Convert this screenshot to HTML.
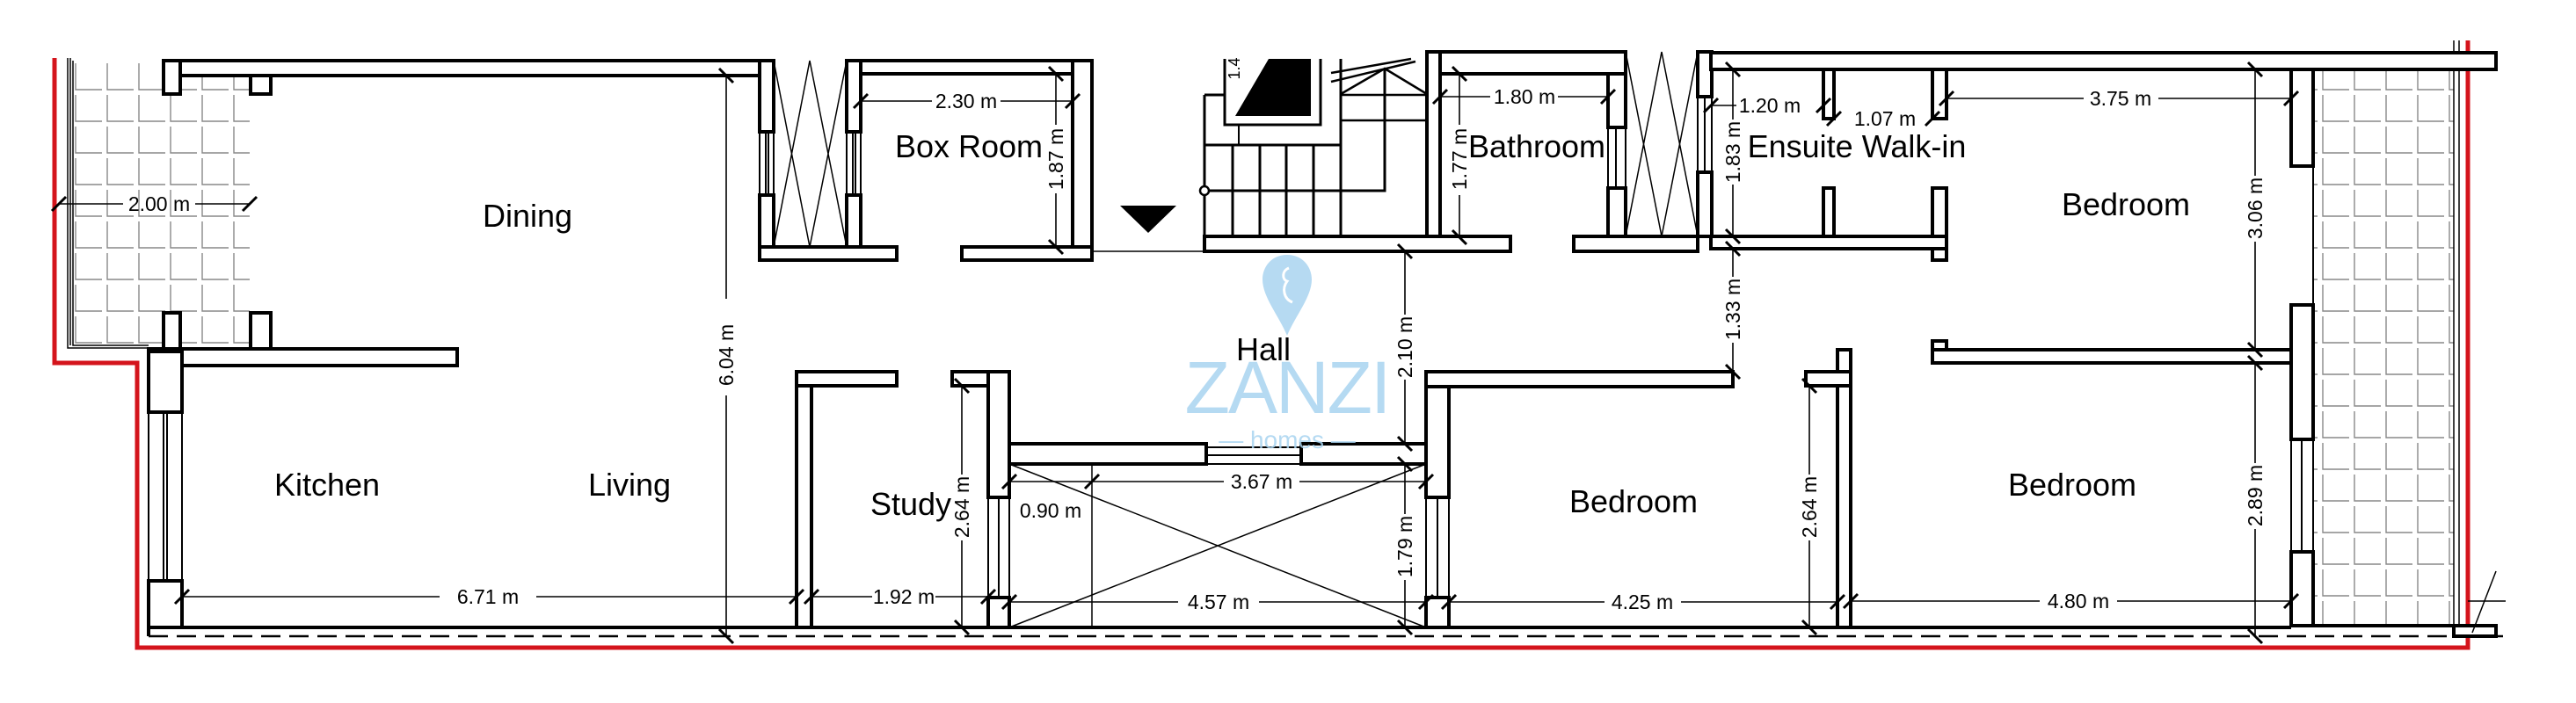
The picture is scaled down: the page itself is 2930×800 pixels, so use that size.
<!DOCTYPE html>
<html><head><meta charset="utf-8"><style>
html,body{margin:0;padding:0;background:#fff;}
svg{display:block;}
text{font-family:"Liberation Sans",Arial,sans-serif;fill:#000;}
.lb{font-size:36px;text-anchor:middle;}
.dm{font-size:23px;text-anchor:middle;}
</style></head><body>
<svg width="2930" height="800" viewBox="0 0 2930 800" xmlns="http://www.w3.org/2000/svg">
<defs>
<pattern id="tile" x="83" y="69" width="36" height="36" patternUnits="userSpaceOnUse">
<path d="M3 3 V33 H33" fill="none" stroke="#888" stroke-width="1.4"/>
</pattern>
</defs>
<rect width="2930" height="800" fill="#fff"/>
<rect x="83" y="69" width="201" height="324" fill="url(#tile)"/>
<path d="M77 66 V396 H169 M80 66 V393 M83 69 V393 H169" fill="none" stroke="#000" stroke-width="1.5"/>
<rect x="2631" y="79" width="160" height="633" fill="url(#tile)"/>
<path d="M2791 46 V712 M2797 46 V712" fill="none" stroke="#000" stroke-width="1.5"/>
<path d="M62 66 V413 H156 V737 H2807 V46" fill="none" stroke="#d4141c" stroke-width="5"/>

<g fill="#fff" stroke="#000" stroke-width="4">
<rect x="186" y="69" width="19" height="38"/>
<rect x="285" y="69" width="23" height="38"/>
<rect x="205" y="69" width="675" height="17"/>
<rect x="864" y="69" width="16" height="81"/>
<rect x="864" y="222" width="16" height="59"/>
<rect x="864" y="281" width="156" height="15"/>
<rect x="963" y="69" width="16" height="81"/>
<rect x="963" y="222" width="16" height="59"/>
<rect x="979" y="69" width="263" height="15"/>
<rect x="1220" y="69" width="22" height="227"/>
<rect x="1094" y="281" width="148" height="15"/>
<rect x="186" y="356" width="19" height="44"/>
<rect x="285" y="356" width="23" height="41"/>
<rect x="169" y="397" width="351" height="19"/>
<rect x="169" y="400" width="38" height="69"/>
<rect x="169" y="661" width="38" height="53"/>
<rect x="906" y="423" width="17" height="291"/>
<rect x="906" y="423" width="114" height="16"/>
<rect x="1083" y="423" width="65" height="16"/>
<rect x="1124" y="423" width="24" height="143"/>
<rect x="1124" y="680" width="24" height="34"/>
<rect x="1148" y="505" width="224" height="23"/>
<rect x="1480" y="505" width="142" height="23"/>
<rect x="1622" y="423" width="26" height="143"/>
<rect x="1622" y="680" width="26" height="34"/>
<rect x="1622" y="423" width="349" height="17"/>
<rect x="1370" y="269" width="348" height="17"/>
<rect x="1623" y="59" width="15" height="210"/>
<rect x="1638" y="59" width="211" height="25"/>
<rect x="1829" y="84" width="20" height="61"/>
<rect x="1829" y="214" width="20" height="56"/>
<rect x="1790" y="269" width="141" height="17"/>
<rect x="1931" y="59" width="16" height="51"/>
<rect x="1931" y="196" width="16" height="73"/>
<rect x="1946" y="60" width="893" height="19"/>
<rect x="2074" y="79" width="12" height="56"/>
<rect x="2198" y="79" width="16" height="56"/>
<rect x="2074" y="214" width="12" height="55"/>
<rect x="2198" y="214" width="16" height="82"/>
<rect x="1946" y="269" width="268" height="14"/>
<rect x="2606" y="79" width="25" height="110"/>
<rect x="2606" y="347" width="25" height="153"/>
<rect x="2606" y="628" width="25" height="84"/>
<rect x="2198" y="388" width="16" height="25"/>
<rect x="2198" y="398" width="408" height="15"/>
<rect x="2090" y="398" width="15" height="316"/>
<rect x="2054" y="423" width="51" height="16"/>
<rect x="2791" y="712" width="48" height="12"/>
</g>
<g fill="none" stroke="#000" stroke-width="2">
<path d="M864 150 V222 M880 150 V222 M871 150 V222 M874 150 V222"/>
<path d="M963 150 V222 M979 150 V222 M970 150 V222 M973 150 V222"/>
<path d="M169 469 V661 M207 469 V661 M186 469 V661 M190 469 V661"/>
<path d="M1829 145 V214 M1849 145 V214 M1838 145 V214"/>
<path d="M1931 110 V196 M1947 110 V196 M1939 110 V196"/>
<path d="M2606 500 V628 M2631 500 V628 M2618 500 V628"/>
<path d="M1124 566 V680 M1148 566 V680 M1136 566 V680"/>
<path d="M1622 566 V680 M1648 566 V680 M1635 566 V680"/>
<path d="M1372 509 H1480 M1372 528 H1480 M1372 518 H1480"/>
<path d="M2631 189 V347"/>
</g>
<path d="M169 714 V724 M207 714 H906 M923 714 H1124 M1148 714 H1622 M1648 714 H2090 M2105 714 H2606 M2631 712 H2791" stroke="#000" stroke-width="4" fill="none"/>
<path d="M169 724 H2850" stroke="#000" stroke-width="2.5" stroke-dasharray="22 10" fill="none"/>
<g fill="none" stroke="#000" stroke-width="1.5">
<path d="M880 281 H963 M880 69 L921 281 L963 69 M880 281 L921 69 L963 281" />
<path d="M1849 59 L1890 269 L1931 59 M1849 269 L1890 59 L1931 269"/>
<path d="M1148 528 L1622 714 M1148 714 L1622 528"/>
<path d="M1242 528 V714"/>
<path d="M1242 286 H1370"/>
</g>
<path d="M1849 269 H1931" stroke="#000" stroke-width="3"/>
<g fill="none" stroke="#000" stroke-width="3">
<path d="M1370 108 H1393 V142 H1502 V67 M1393 67 V142"/>
<path d="M1370 108 V269 M1370 165 H1525 M1370 217 H1575 V78"/>
<path d="M1402 165 V269 M1433 165 V269 M1463 165 V269 M1494 165 V269 M1525 67 V269"/>
<path d="M1525 137 H1623 M1525 108 H1623 M1525 107 L1575 78 L1623 107 M1514 83 L1605 67 M1514 93 L1610 70" stroke-width="2.5"/>
<path d="M1409 142 V165" stroke-width="2"/>
</g>
<polygon points="1405,132 1443,67 1491,67 1491,132" fill="#000"/>
<circle cx="1370" cy="217" r="5" fill="#fff" stroke="#000" stroke-width="2.5"/>
<polygon points="1274,234 1338,234 1306,265" fill="#000"/>
<text x="1410" y="78" font-size="18" transform="rotate(-90 1410 78)" text-anchor="middle">1.4</text>

<g fill="#a9d4f0" opacity="0.85">
<path d="M1464 290 C1446 290 1436 304 1436 318 C1436 338 1455 360 1464 382 C1473 360 1492 338 1492 318 C1492 304 1482 290 1464 290 Z"/>
<text x="1464" y="470" font-size="84" text-anchor="middle" style="fill:#a9d4f0;font-weight:normal;letter-spacing:-2px">ZANZI</text>
<text x="1464" y="510" font-size="28" text-anchor="middle" style="fill:#a9d4f0">— homes —</text>
</g>
<path d="M1466 305 C1458 308 1458 318 1464 320 C1458 328 1460 340 1470 344" fill="none" stroke="#fff" stroke-width="3"/>

<g fill="none" stroke="#000" stroke-width="1.6">
<path d="M67 232 H140 M222 232 H284"/>
<path d="M826 86 V340 M826 450 V724"/>
<path d="M207 679 H500 M610 679 H906"/>
<path d="M923 679 H992 M1064 679 H1124"/>
<path d="M1094 439 V540 M1094 615 V714"/>
<path d="M1148 548 H1392 M1478 548 H1622"/>
<path d="M1598 528 V585 M1598 660 V714"/>
<path d="M1148 685 H1340 M1432 685 H1622"/>
<path d="M1598 286 V358 M1598 432 V505"/>
<path d="M1648 685 H1825 M1912 685 H2090"/>
<path d="M2058 439 V540 M2058 615 V714"/>
<path d="M2105 684 H2320 M2408 684 H2606"/>
<path d="M2565 413 V527 M2565 602 V724"/>
<path d="M2565 79 V200 M2565 275 V398"/>
<path d="M2214 112 H2370 M2455 112 H2606"/>
<path d="M1946 120 H1975 M1971 79 V136 M1971 210 V269 M1971 283 V315 M1971 390 V423"/>
<path d="M1638 110 H1695 M1772 110 H1829"/>
<path d="M1660 84 V142 M1660 222 V270"/>
<path d="M979 115 H1060 M1138 115 H1220"/>
<path d="M1201 84 V142 M1201 220 V281"/>
</g>
<g stroke="#000" stroke-width="3">
<path d="M59 240 L75 224 M276 240 L292 224 M818 78 L834 94 M818 716 L834 732 M199 687 L215 671 M898 687 L914 671 M915 687 L931 671 M1116 687 L1132 671 M1086 431 L1102 447 M1086 706 L1102 722 M1140 556 L1156 540 M1234 556 L1250 540 M1614 556 L1630 540 M1590 520 L1606 536 M1590 706 L1606 722 M1140 693 L1156 677 M1614 693 L1630 677 M1590 278 L1606 294 M1590 497 L1606 513 M1640 693 L1656 677 M2082 693 L2098 677 M2050 431 L2066 447 M2050 706 L2066 722 M2097 692 L2113 676 M2598 692 L2614 676 M2557 405 L2573 421 M2557 716 L2573 732 M2557 71 L2573 87 M2557 390 L2573 406 M2206 120 L2222 104 M2598 120 L2614 104 M1938 128 L1954 112 M2066 128 L2082 112 M2078 143 L2094 127 M2190 143 L2206 127 M1963 71 L1979 87 M1963 261 L1979 277 M1963 275 L1979 291 M1963 415 L1979 431 M1630 118 L1646 102 M1821 118 L1837 102 M1652 76 L1668 92 M1652 262 L1668 278 M971 123 L987 107 M1212 123 L1228 107 M1193 76 L1209 92 M1193 273 L1209 289"/>
</g>
<g class="dm">
<text class="dm" x="181" y="240">2.00 m</text>
<text class="dm" x="555" y="687">6.71 m</text>
<text class="dm" x="1028" y="687">1.92 m</text>
<text class="dm" x="1435" y="556">3.67 m</text>
<text class="dm" x="1195" y="589">0.90 m</text>
<text class="dm" x="1386" y="693">4.57 m</text>
<text class="dm" x="1868" y="693">4.25 m</text>
<text class="dm" x="2364" y="692">4.80 m</text>
<text class="dm" x="2412" y="120">3.75 m</text>
<text class="dm" x="2013" y="128">1.20 m</text>
<text class="dm" x="2144" y="143">1.07 m</text>
<text class="dm" x="1734" y="118">1.80 m</text>
<text class="dm" x="1099" y="123">2.30 m</text>
<text class="dm" transform="translate(834,404) rotate(-90)">6.04 m</text>
<text class="dm" transform="translate(1102,577) rotate(-90)">2.64 m</text>
<text class="dm" transform="translate(1606,622) rotate(-90)">1.79 m</text>
<text class="dm" transform="translate(1606,395) rotate(-90)">2.10 m</text>
<text class="dm" transform="translate(2066,577) rotate(-90)">2.64 m</text>
<text class="dm" transform="translate(2573,564) rotate(-90)">2.89 m</text>
<text class="dm" transform="translate(2573,237) rotate(-90)">3.06 m</text>
<text class="dm" transform="translate(1979,173) rotate(-90)">1.83 m</text>
<text class="dm" transform="translate(1979,352) rotate(-90)">1.33 m</text>
<text class="dm" transform="translate(1668,181) rotate(-90)">1.77 m</text>
<text class="dm" transform="translate(1209,181) rotate(-90)">1.87 m</text>
</g>
<text class="lb" x="600" y="258">Dining</text>
<text class="lb" x="372" y="564">Kitchen</text>
<text class="lb" x="716" y="564">Living</text>
<text class="lb" x="1036" y="586">Study</text>
<text class="lb" x="1102" y="179">Box Room</text>
<text class="lb" x="1748" y="179">Bathroom</text>
<text class="lb" x="2112" y="179">Ensuite Walk-in</text>
<text class="lb" x="2418" y="245">Bedroom</text>
<text class="lb" x="1858" y="583">Bedroom</text>
<text class="lb" x="2357" y="564">Bedroom</text>
<text class="lb" x="1437" y="410">Hall</text>
<path d="M2839 650 L2812 720 M2807 684 H2850" stroke="#000" stroke-width="1.5" fill="none"/>
</svg>
</body></html>
